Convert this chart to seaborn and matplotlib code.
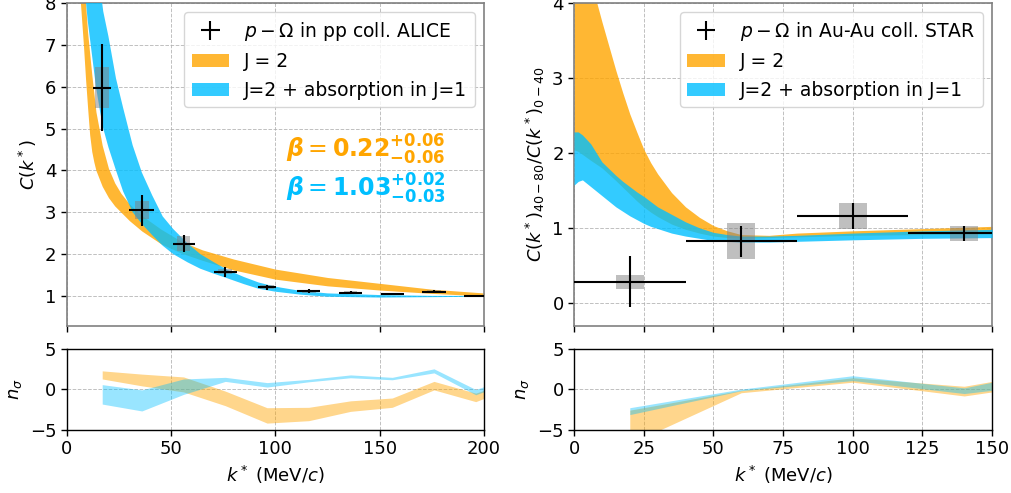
import numpy as np
import pandas as pd
import matplotlib
matplotlib.use("Agg")
import matplotlib.pyplot as plt
import seaborn as sns

# ---------------- data: ALICE (left) ----------------
alice_k = [17, 36, 56, 76, 96, 116, 136, 156, 176, 196]
alice_C = [5.98, 3.05, 2.25, 1.58, 1.21, 1.11, 1.08, 1.04, 1.10, 1.00]
alice_yerr = [1.05, 0.37, 0.21, 0.12, 0.06, 0.05, 0.04, 0.03, 0.04, 0.02]
alice_xerr = [4.3, 6.0, 5.3, 5.6, 4.5, 5.6, 5.6, 5.6, 5.6, 5.6]
alice_sys = [0.50, 0.22, 0.18, 0.06, 0.04, 0.04, 0.03, 0.03, 0.04, 0.02]
alice_sysw = 3.3

# J = 2 band (left)
orL_k = [6, 8, 9, 10, 11, 12, 13, 14, 17, 20, 23, 26, 30, 36, 45, 55, 65, 80, 100, 125, 150, 175, 200]
orL_lo = [8.4, 7.0, 6.2, 5.5, 4.85, 4.45, 4.2, 4.0, 3.62, 3.35, 3.15, 3.0, 2.8, 2.55, 2.25, 2.02, 1.85, 1.62, 1.40, 1.24, 1.14, 1.06, 1.00]
orL_hi = [11.0, 9.0, 8.0, 7.3, 6.8, 6.3, 5.85, 5.4, 4.6, 4.05, 3.7, 3.45, 3.2, 2.92, 2.6, 2.3, 2.1, 1.88, 1.64, 1.44, 1.30, 1.16, 1.07]

# J=2 + absorption band (left)
blL_k = [8, 9, 10, 11.5, 13, 14, 16, 17.5, 20, 23.6, 27, 31.6, 36, 41, 46, 51, 58, 64, 70, 77, 85, 92, 100, 112, 125, 150, 175, 200]
blL_lo = [9.0, 8.15, 7.6, 7.0, 6.4, 6.0, 5.4, 5.0, 4.55, 4.0, 3.5, 3.0, 2.72, 2.45, 2.2, 2.0, 1.8, 1.65, 1.54, 1.42, 1.28, 1.17, 1.10, 1.03, 0.98, 0.96, 0.97, 0.98]
blL_hi = [13.0, 12.0, 11.2, 10.4, 9.6, 9.2, 8.4, 7.8, 7.2, 6.2, 5.5, 4.6, 3.95, 3.4, 2.9, 2.6, 2.25, 2.0, 1.82, 1.62, 1.45, 1.32, 1.22, 1.12, 1.06, 1.02, 1.0, 1.0]

# n_sigma (left)
nsL_k = [17, 36, 56, 76, 96, 116, 136, 156, 176, 196, 200]
nsL_or_lo = [1.3, 0.45, -0.3, -2.0, -4.15, -3.85, -2.7, -2.2, -0.05, -1.5, -1.1]
nsL_or_hi = [2.3, 1.9, 1.55, -0.2, -2.25, -2.2, -1.4, -1.05, 1.0, -0.45, -0.1]
nsL_bl_lo = [-1.8, -2.65, -0.6, 1.0, 0.3, 0.95, 1.45, 1.2, 2.05, -0.65, -0.27]
nsL_bl_hi = [0.6, -0.05, 1.3, 1.5, 0.85, 1.25, 1.8, 1.5, 2.55, 0.0, 0.35]

# ---------------- data: STAR (right) ----------------
star_k = [20, 60, 100, 140]
star_R = [0.28, 0.82, 1.16, 0.93]
star_yerr = [0.34, 0.21, 0.17, 0.10]
star_xerr = [20, 20, 20, 20]
star_sys = [0.09, 0.24, 0.17, 0.10]
star_sysw = 5.0

orR_k = [0, 1.5, 3, 6, 10, 15, 17.5, 20, 22.5, 25, 27.5, 30, 35, 40, 45, 50, 55, 60, 70, 80, 100, 125, 150]
orR_lo = [2.04, 2.02, 1.98, 1.90, 1.80, 1.63, 1.54, 1.45, 1.36, 1.28, 1.21, 1.15, 1.05, 0.98, 0.93, 0.89, 0.87, 0.86, 0.87, 0.88, 0.90, 0.91, 0.92]
orR_hi = [5.0, 4.85, 4.65, 4.3, 3.75, 3.1, 2.8, 2.52, 2.28, 2.05, 1.87, 1.72, 1.47, 1.28, 1.14, 1.03, 0.96, 0.91, 0.90, 0.93, 0.96, 0.99, 1.02]
blR_lo = [1.57, 1.62, 1.64, 1.55, 1.43, 1.28, 1.22, 1.16, 1.11, 1.06, 1.02, 0.99, 0.93, 0.89, 0.86, 0.83, 0.82, 0.81, 0.81, 0.82, 0.84, 0.86, 0.87]
blR_hi = [2.28, 2.28, 2.24, 2.12, 1.88, 1.70, 1.62, 1.55, 1.48, 1.42, 1.35, 1.28, 1.18, 1.08, 1.00, 0.94, 0.91, 0.89, 0.89, 0.90, 0.93, 0.96, 0.98]

nsR_k = [20, 60, 100, 140, 150]
nsR_or_lo = [-6.7, -0.4, 0.9, -0.8, -0.3]
nsR_or_hi = [-2.55, -0.1, 1.45, 0.4, 1.0]
nsR_bl_lo = [-3.1, -0.15, 1.1, -0.5, -0.1]
nsR_bl_hi = [-2.25, 0.05, 1.7, 0.2, 0.9]

ORANGE = "orange"
BLUE = "deepskyblue"

sns.set_theme(style="ticks", rc={
    "axes.edgecolor": "black",
    "xtick.color": "black", "ytick.color": "black",
    "axes.labelcolor": "black", "text.color": "black",
})
plt.rcParams["font.family"] = ["DejaVu Sans"]
plt.rcParams["mathtext.fontset"] = "dejavusans"
FS = 13

fig = plt.figure(figsize=(10.11, 4.93), dpi=100)
axLt = fig.add_axes([0.066, 0.3387, 0.4128, 0.6552])
axLb = fig.add_axes([0.066, 0.1278, 0.4128, 0.1643])
axRt = fig.add_axes([0.5678, 0.3387, 0.4135, 0.6552])
axRb = fig.add_axes([0.5678, 0.1278, 0.4135, 0.1643])


def data_points(ax, k, y, xerr, yerr, sys, sysw, label):
    df = pd.DataFrame({"k": k, "y": y, "sys": sys})
    ax.bar(df["k"], 2 * df["sys"], bottom=df["y"] - df["sys"], width=2 * sysw,
           color="grey", alpha=0.5, linewidth=0, zorder=4)
    ax.errorbar(k, y, xerr=xerr, yerr=yerr, fmt="none", ecolor="black",
                elinewidth=1.5, capsize=0, zorder=5, label=label)


def beta_label(val, up, dn):
    return (r"$\boldsymbol{\beta} = \mathbf{" + val + r"}^{\mathbf{+" + up + r"}}_{\mathbf{-" + dn + r"}}$")


# ---- left top
axLt.fill_between(orL_k, orL_lo, orL_hi, color=ORANGE, alpha=0.8, lw=0, label="J = 2", zorder=2)
axLt.fill_between(blL_k, blL_lo, blL_hi, color=BLUE, alpha=0.8, lw=0, label="J=2 + absorption in J=1", zorder=3)
data_points(axLt, alice_k, alice_C, alice_xerr, alice_yerr, alice_sys, alice_sysw,
            r"$p-\Omega$ in pp coll. ALICE")
axLt.set_xlim(0, 200)
axLt.set_ylim(0.28, 8)
axLt.set_yticks([1, 2, 3, 4, 5, 6, 7, 8])
axLt.set_xticks([0, 50, 100, 150, 200])
axLt.set_xticklabels([])
axLt.set_ylabel(r"$C(k^*)$", fontsize=FS)
axLt.text(105, 4.5, beta_label("0.22", "0.06", "0.06"), color=ORANGE,
          fontsize=17, va="center", ha="left")
axLt.text(105, 3.55, beta_label("1.03", "0.02", "0.03"), color=BLUE,
          fontsize=17, va="center", ha="left")
h, l = axLt.get_legend_handles_labels()
order = [l.index(r"$p-\Omega$ in pp coll. ALICE"), l.index("J = 2"), l.index("J=2 + absorption in J=1")]
axLt.legend([h[i] for i in order], [l[i] for i in order], loc="upper right", fontsize=13.5,
            frameon=True)

# ---- right top
axRt.fill_between(orR_k, orR_lo, orR_hi, color=ORANGE, alpha=0.8, lw=0, label="J = 2", zorder=2)
axRt.fill_between(orR_k, blR_lo, blR_hi, color=BLUE, alpha=0.8, lw=0, label="J=2 + absorption in J=1", zorder=3)
data_points(axRt, star_k, star_R, star_xerr, star_yerr, star_sys, star_sysw,
            r"$p-\Omega$ in Au-Au coll. STAR")
axRt.set_xlim(0, 150)
axRt.set_ylim(-0.31, 4)
axRt.set_yticks([0, 1, 2, 3, 4])
axRt.set_xticks([0, 25, 50, 75, 100, 125, 150])
axRt.set_xticklabels([])
axRt.set_ylabel(r"$C(k^*)_{40-80}/C(k^*)_{0-40}$", fontsize=FS)
h, l = axRt.get_legend_handles_labels()
order = [l.index(r"$p-\Omega$ in Au-Au coll. STAR"), l.index("J = 2"), l.index("J=2 + absorption in J=1")]
axRt.legend([h[i] for i in order], [l[i] for i in order], loc="upper right", fontsize=13.5,
            frameon=True)

# ---- bottoms
axLb.fill_between(nsL_k, nsL_or_lo, nsL_or_hi, color=ORANGE, alpha=0.45, lw=0)
axLb.fill_between(nsL_k, nsL_bl_lo, nsL_bl_hi, color=BLUE, alpha=0.4, lw=0)
axLb.set_xlim(0, 200)
axLb.set_xticks([0, 50, 100, 150, 200])

axRb.fill_between(nsR_k, nsR_or_lo, nsR_or_hi, color=ORANGE, alpha=0.45, lw=0)
axRb.fill_between(nsR_k, nsR_bl_lo, nsR_bl_hi, color=BLUE, alpha=0.4, lw=0)
axRb.set_xlim(0, 150)
axRb.set_xticks([0, 25, 50, 75, 100, 125, 150])

for ax in (axLb, axRb):
    ax.set_ylim(-5, 5)
    ax.set_yticks([-5, 0, 5])
    ax.set_ylabel(r"$n_\sigma$", fontsize=FS)
    ax.set_xlabel(r"$k^*$ (MeV/$c$)", fontsize=FS)

for ax in (axLt, axRt, axLb, axRb):
    ax.grid(True, linestyle="--", color="#b0b0b0", linewidth=0.7, alpha=0.8)
    ax.tick_params(labelsize=FS, direction="out", length=4, width=1)
    for s in ax.spines.values():
        s.set_visible(True)
        s.set_linewidth(1.0)

for ax in (axLt, axRt):
    for s in ax.spines.values():
        s.set_color("grey")
        s.set_linewidth(1.2)

fig.savefig("out.png", dpi=100)
